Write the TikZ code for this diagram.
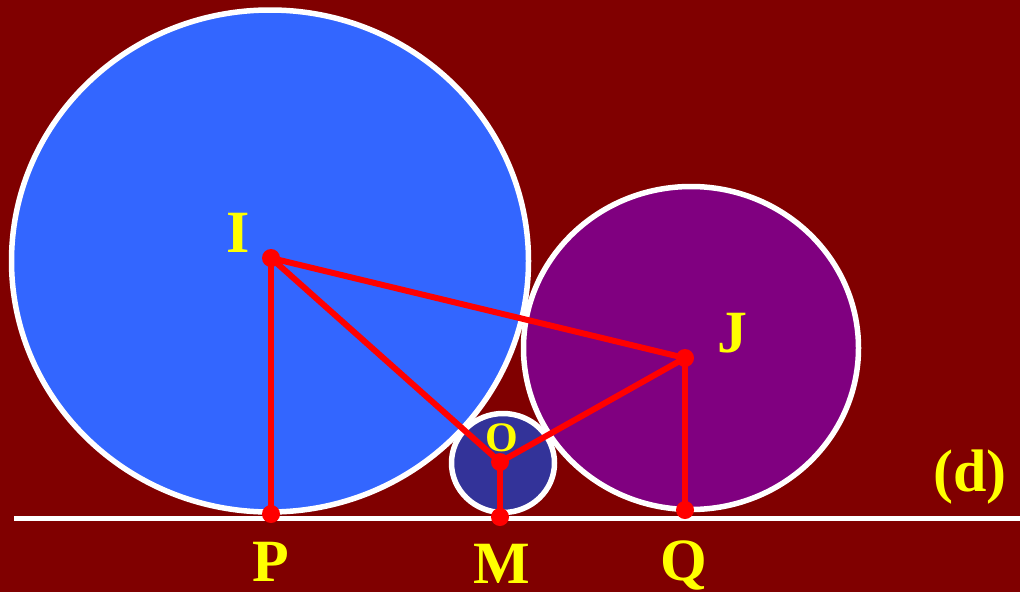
\documentclass[tikz,border=0pt]{standalone}
\usepackage{fontspec}
\setmainfont{Liberation Serif}
\definecolor{bgred}{HTML}{800000}
\definecolor{bigblue}{HTML}{3366FF}
\definecolor{purp}{HTML}{800080}
\definecolor{smallblue}{HTML}{333399}
\definecolor{ptred}{HTML}{FF0000}
\definecolor{lblyellow}{HTML}{FFFF00}
\tikzset{
  disc/.style={draw=white, line width=5.5pt},
  seg/.style={draw=ptred, line width=6pt},
  lbl/.style={text=lblyellow, font=\bfseries\fontsize{60}{60}\selectfont, anchor=base, inner sep=0pt},
  lblsmall/.style={text=lblyellow, font=\bfseries\fontsize{42}{42}\selectfont, anchor=base, inner sep=0pt},
}
\begin{document}
\begin{tikzpicture}[x=1pt,y=-1pt]
\fill[bgred] (0,0) rectangle (1020,592);
\useasboundingbox (0,0) rectangle (1020,592);
% circles
\draw[disc, fill=bigblue] (270,261) ellipse [x radius=258.5pt, y radius=251pt];
\draw[disc, fill=purp] (691,348) ellipse [x radius=167.5pt, y radius=161.5pt];
\draw[disc, fill=smallblue] (503,463) ellipse [x radius=51.5pt, y radius=49.5pt];
% line (d)
\coordinate (L1) at (14,518);
\coordinate (L2) at (1020,518);
\draw[white, line width=5pt] (L1) -- (L2);
% points
\coordinate (I) at (271,258);
\coordinate (J) at (685,358);
\coordinate (O) at (500,462);
\coordinate (P) at (271,514);
\coordinate (M) at (500,517);
\coordinate (Q) at (685,510);
\draw[seg] (I) -- (P);
\draw[seg] (I) -- (J);
\draw[seg] (I) -- (O);
\draw[seg] (O) -- (J);
\draw[seg] (O) -- (M);
\draw[seg] (J) -- (Q);
\foreach \p in {I,J,O,P,M,Q} \fill[ptred] (\p) circle (9pt);
% labels
\node[lbl] (tI) at (238,252) {I};
\node[lbl] (tJ) at (732,352) {J};
\node[lblsmall] (tO) at (502,451) {O};
\node[lbl] (tP) at (271,581) {P};
\node[lbl] (tM) at (502,583) {M};
\node[lbl] (tQ) at (684,580) {Q};
\node[lbl] (td) at (970,491) {(d)};
\end{tikzpicture}
\end{document}
